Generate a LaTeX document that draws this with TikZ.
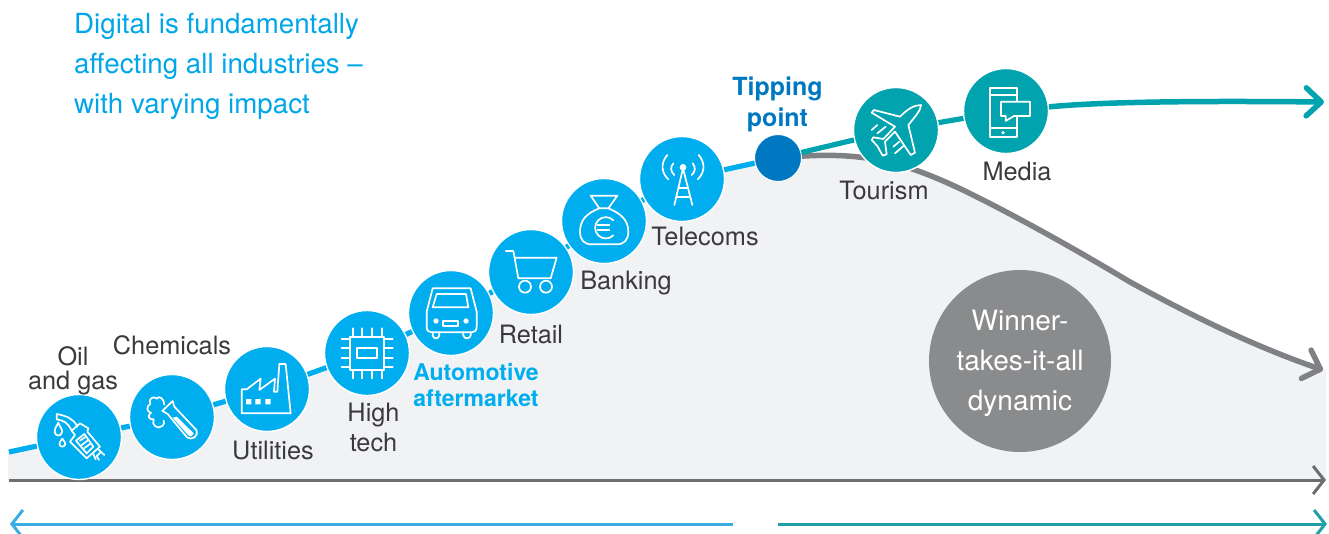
\documentclass[tikz,border=0pt]{standalone}
\usepackage{fontspec}
\setmainfont{TeX Gyre Heros}
\usetikzlibrary{arrows.meta}
\definecolor{cyanb}{HTML}{00AEEF}
\definecolor{darkb}{HTML}{0078C1}
\definecolor{tealb}{HTML}{00A3AE}
\definecolor{curvegrey}{HTML}{808184}
\definecolor{wingrey}{HTML}{8A8B8D}
\definecolor{axisgrey}{HTML}{6D6E71}
\definecolor{labelc}{HTML}{3A3A3C}
\definecolor{areafill}{HTML}{F1F2F4}
\definecolor{lowblue}{HTML}{3AAEE0}
\definecolor{lowteal}{HTML}{1FA0A8}
\tikzset{
  ind/.style={circle,draw=white,line width=1.4pt,fill=#1,minimum size=85pt,inner sep=0pt},
  lbl/.style={text=labelc,font=\fontsize{25.3}{30}\selectfont,inner sep=0pt,align=center},
  lblb/.style={font=\fontsize{25}{30.5}\bfseries\selectfont,inner sep=0pt,align=center},
  zm/.style 2 args={shift={(#1,#2)},x=.33333pt,y=-.33333pt},
  ico/.style={draw=white,line width=1.7pt,line join=round,line cap=round},
  ttl/.style={anchor=base west,text=cyanb!85!darkb,font=\fontsize{27.7}{40}\selectfont,inner sep=0pt,align=left},
  flow/.style={line width=5.2pt},
  thinarrow/.style={line width=3pt,-{Straight Barb[length=11pt,width=28pt,line width=3pt]}}
}
\begin{document}
\begin{tikzpicture}[x=1pt,y=-1pt]
\useasboundingbox (0,0) rectangle (1329,533);
\coordinate (curvestart) at (9,452);
\coordinate (tealend) at (1324,102);
\coordinate (greyend) at (1323,370);
\coordinate (axisstart) at (9,480);
\coordinate (axisend) at (1326,480);
\coordinate (lowbluer) at (733,524);
\coordinate (lowbluel) at (10,524);
\coordinate (lowtealr) at (1327,524);
\coordinate (lowteall) at (778,524);
\coordinate (areabr) at (1326,480);
\coordinate (areatr) at (1326,370);
\coordinate (areabl) at (8,480);
\coordinate (areatl) at (8,452);
\coordinate (grA) at (965,191);
\coordinate (grB) at (1130,282);

\coordinate (poil) at (79,437);
\coordinate (pchem) at (172,417);
\coordinate (putil) at (267,389);
\coordinate (phigh) at (367,353);
\coordinate (pauto) at (451,313);
\coordinate (pret) at (531,272);
\coordinate (pbank) at (604,221);
\coordinate (ptel) at (682,179);
\coordinate (ptip) at (778,158);

\fill[areafill] (areabl) -- (areatl) -- (poil) -- (pchem) -- (putil) -- (phigh) -- (pauto) -- (pret) -- (pbank) -- (ptel) -- (ptip)
  .. controls (860,150) and (900,160) .. (grA) .. controls (1020,218) and (1080,252) .. (grB) .. controls (1185,312) and (1250,345) .. (areatr) -- (areabr) -- cycle;

\draw[curvegrey,line width=5.5pt,-{Straight Barb[length=15pt,width=30pt,line width=5.5pt,round]}]
  (ptip) .. controls (860,150) and (900,160) .. (grA) .. controls (1020,218) and (1080,252) .. (grB) .. controls (1185,312) and (1250,345) .. (greyend);

\draw[axisgrey,thinarrow] (axisstart) -- (axisend);
\draw[lowblue,thinarrow] (lowbluer) -- (lowbluel);
\draw[lowteal,thinarrow] (lowteall) -- (lowtealr);

\node[ind=cyanb] (oil) at (poil) {};
\node[ind=cyanb] (chem) at (pchem) {};
\node[ind=cyanb] (util) at (putil) {};
\node[ind=cyanb] (high) at (phigh) {};
\node[ind=cyanb] (auto) at (pauto) {};
\node[ind=cyanb] (ret) at (pret) {};
\node[ind=cyanb] (bank) at (pbank) {};
\node[ind=cyanb] (tel) at (ptel) {};
\node[circle,fill=darkb,draw=white,line width=1pt,minimum size=47pt,inner sep=0pt] (tip) at (ptip) {};
\node[ind=tealb] (tour) at (896,130) {};
\node[ind=tealb] (media) at (1006,111) {};

\draw[cyanb,flow] (curvestart) -- (oil);
\draw[cyanb,flow] (oil) -- (chem);
\draw[cyanb,flow] (chem) -- (util);
\draw[cyanb,flow] (util) -- (high);
\draw[cyanb,flow] (high) -- (auto);
\draw[cyanb,flow] (auto) -- (ret);
\draw[cyanb,flow] (ret) -- (bank);
\draw[cyanb,flow] (bank) -- (tel);
\draw[cyanb,flow] (tel) -- (tip);
\draw[tealb,flow] (tip) -- (tour);
\draw[tealb,flow] (tour) -- (media);
\draw[tealb,line width=5.5pt,-{Straight Barb[length=15pt,width=28pt,line width=5.5pt,round]}]
  (media) .. controls (1110,101) and (1220,101) .. (tealend);

% pump
\begin{scope}[zm={30}{390}]
\draw[ico] (125,122) .. controls (112,95) and (100,92) .. (80,88) -- (80,72) .. controls (110,78) and (130,85) .. (142,110);
\draw[ico] (150,100) -- (175,115) -- (172,125) -- (210,170) -- (170,205) -- (120,155) -- (135,135) -- (125,122) -- cycle;
\draw[ico] (138,152) -- (163,132) -- (190,170) -- (170,190) -- cycle;
\draw[ico] (150,152) -- (165,142) (155,165) -- (175,150) (162,175) -- (180,162);
\draw[ico] (205,178) -- (223,195) (212,187) -- (200,198) -- (207,210) (190,192) -- (197,208);
\draw[ico] (85,98) .. controls (78,112) and (72,118) .. (74,126) .. controls (76,140) and (94,140) .. (96,126) .. controls (98,118) and (90,112) .. (85,98);
\draw[ico] (97,146) .. controls (92,154) and (87,158) .. (88,163) .. controls (90,172) and (104,172) .. (106,163) .. controls (107,158) and (102,154) .. (97,146);
\end{scope}
% flask
\begin{scope}[zm={125}{370}]
\draw[ico] (112,123) -- (143,93) -- (148,110) -- (214,180) .. controls (222,200) and (200,212) .. (186,202) -- (128,132) -- cycle;
\fill[white] (143,143) -- (155,140) -- (206,190) .. controls (206,198) and (196,202) .. (190,196) -- cycle;
\draw[ico] (118,104) .. controls (118,85) and (100,75) .. (96,86) .. controls (85,75) and (68,88) .. (76,102) .. controls (62,108) and (66,128) .. (78,128) .. controls (66,138) and (72,150) .. (86,148) .. controls (78,165) and (98,180) .. (112,168) .. controls (118,164) and (118,158) .. (116,152);
\end{scope}
% factory
\begin{scope}[zm={220}{340}]
\draw[ico] (65,220) -- (65,148) -- (80,148) -- (122,116) -- (118,150) -- (165,116) -- (162,155) -- (172,155) -- (178,72) -- (197,72) -- (212,220) -- cycle;
\fill[white] (78,177) rectangle (94,193) (106,177) rectangle (122,193) (136,177) rectangle (152,193);
\end{scope}
% chip
\begin{scope}[zm={320}{305}]
\draw[ico] (90,95) rectangle (192,195);
\draw[ico] (110,130) rectangle (172,160);
\foreach \v in {99,127,155,185} {
  \draw[ico] (\v,70) -- (\v,95) (\v,195) -- (\v,220);
}
\foreach \v in {103,130,158,187} {
  \draw[ico] (65,\v) -- (90,\v) (192,\v) -- (218,\v);
}
\end{scope}
% car
\begin{scope}[zm={300}{170}]
\draw[ico] (398,355) -- (512,355) -- (530,425) -- (530,470) .. controls (530,482) and (524,487) .. (515,487) -- (395,487) .. controls (386,487) and (380,482) .. (380,470) -- (380,425) -- cycle;
\draw[ico] (410,372) -- (498,372) -- (505,412) -- (398,412) -- cycle;
\fill[white] (408,453) circle[radius=8] (498,453) circle[radius=8];
\draw[ico] (428,452) rectangle (475,468);
\draw[ico] (398,487) -- (398,496) .. controls (400,508) and (416,508) .. (418,496) -- (418,487);
\draw[ico] (490,487) -- (490,496) .. controls (492,508) and (510,508) .. (512,496) -- (512,487);
\end{scope}
% cart
\begin{scope}[zm={300}{170}]
\draw[ico] (617,243) -- (640,243) -- (655,325) -- (752,325) -- (770,263) -- (645,263);
\draw[ico] (675,350) circle[radius=18] (738,350) circle[radius=18];
\end{scope}
% money bag
\begin{scope}[zm={550}{60}]
\draw[ico] (148,445) -- (122,407) -- (202,407) -- (175,445) -- cycle;
\draw[ico] (148,445) .. controls (110,460) and (90,480) .. (90,515) .. controls (90,540) and (102,553) .. (125,553) -- (200,553) .. controls (222,553) and (235,540) .. (235,515) .. controls (235,480) and (212,460) .. (175,445);
\draw[ico] (190,526) arc[start angle=45,end angle=315,radius=32];
\draw[ico] (143,495) -- (178,495) (143,511) -- (178,511);
\end{scope}
% antenna
\begin{scope}[zm={550}{60}]
\fill[white] (399,322) circle[radius=10];
\draw[ico] (399,325) -- (373,435) (399,325) -- (427,435);
\draw[ico] (388,385) -- (410,385) (380,410) -- (418,410);
\draw[ico] (352,285) .. controls (330,310) and (335,340) .. (355,358);
\draw[ico] (370,310) .. controls (360,322) and (362,335) .. (373,345);
\draw[ico] (446,285) .. controls (468,310) and (463,340) .. (443,358);
\draw[ico] (428,310) .. controls (438,322) and (436,335) .. (425,345);
\end{scope}
% plane
\begin{scope}[zm={840}{60}]
\draw[ico] (243,135) .. controls (243,150) and (225,170) .. (205,195) -- (225,278) -- (212,285) -- (165,215) -- (135,245) -- (140,283) -- (128,287) -- (112,258) -- (95,240) -- (100,232) -- (130,237) -- (165,200) -- (95,158) -- (102,150) -- (180,170) .. controls (200,150) and (220,135) .. cycle;
\draw[ico] (95,210) -- (112,195) (112,220) -- (137,200) (160,260) -- (178,245) (165,280) -- (190,258);
\end{scope}
% phone
\begin{scope}[zm={840}{60}]
\draw[ico] (532,122) -- (532,85) -- (450,85) -- (450,232) -- (532,232) -- (532,170);
\draw[ico] (450,105) -- (532,105) (450,205) -- (532,205);
\fill[white] (489,218) circle[radius=5.5];
\draw[ico] (483,125) -- (570,125) -- (570,168) -- (522,168) -- (497,183) -- (497,168) -- (483,168) -- cycle;
\end{scope}

\node[ttl] (ttlA) at (74,33.5) {Digital is fundamentally};
\node[ttl] (ttlB) at (74,73.5) {affecting all industries –};
\node[ttl] (ttlC) at (74,113.5) {with varying impact};

\node[lbl,font=\fontsize{25.3}{24}\selectfont] (loil) at (73,370.5) {Oil\\and gas};
\node[lbl,anchor=base] (lchem) at (172,354) {Chemicals};
\node[lbl,anchor=base] (lutil) at (273,459) {Utilities};
\node[lbl] (lhigh) at (373.5,427) {High\\tech};
\node[lblb,text=cyanb,font=\fontsize{23}{26}\bfseries\selectfont] (lauto) at (476,385) {Automotive\\aftermarket};
\node[lbl,anchor=base] (lret) at (531,343.5) {Retail};
\node[lbl,anchor=base] (lbank) at (626,289) {Banking};
\node[lbl,anchor=base] (ltel) at (705,245) {Telecoms};
\node[lblb,text=darkb] (ltip) at (777.5,104.5) {Tipping\\point};
\node[lbl,anchor=base] (ltour) at (884,199) {Tourism};
\node[lbl,anchor=base] (lmedia) at (1017,180) {Media};

\node[circle,fill=wingrey,minimum size=182pt,inner sep=0pt] (win) at (1020,361) {};
\node[text=white,align=center,inner sep=0pt,font=\fontsize{28}{40}\selectfont] (wintext) at (1020,363) {Winner-\\takes-it-all\\dynamic};
\end{tikzpicture}
\end{document}
